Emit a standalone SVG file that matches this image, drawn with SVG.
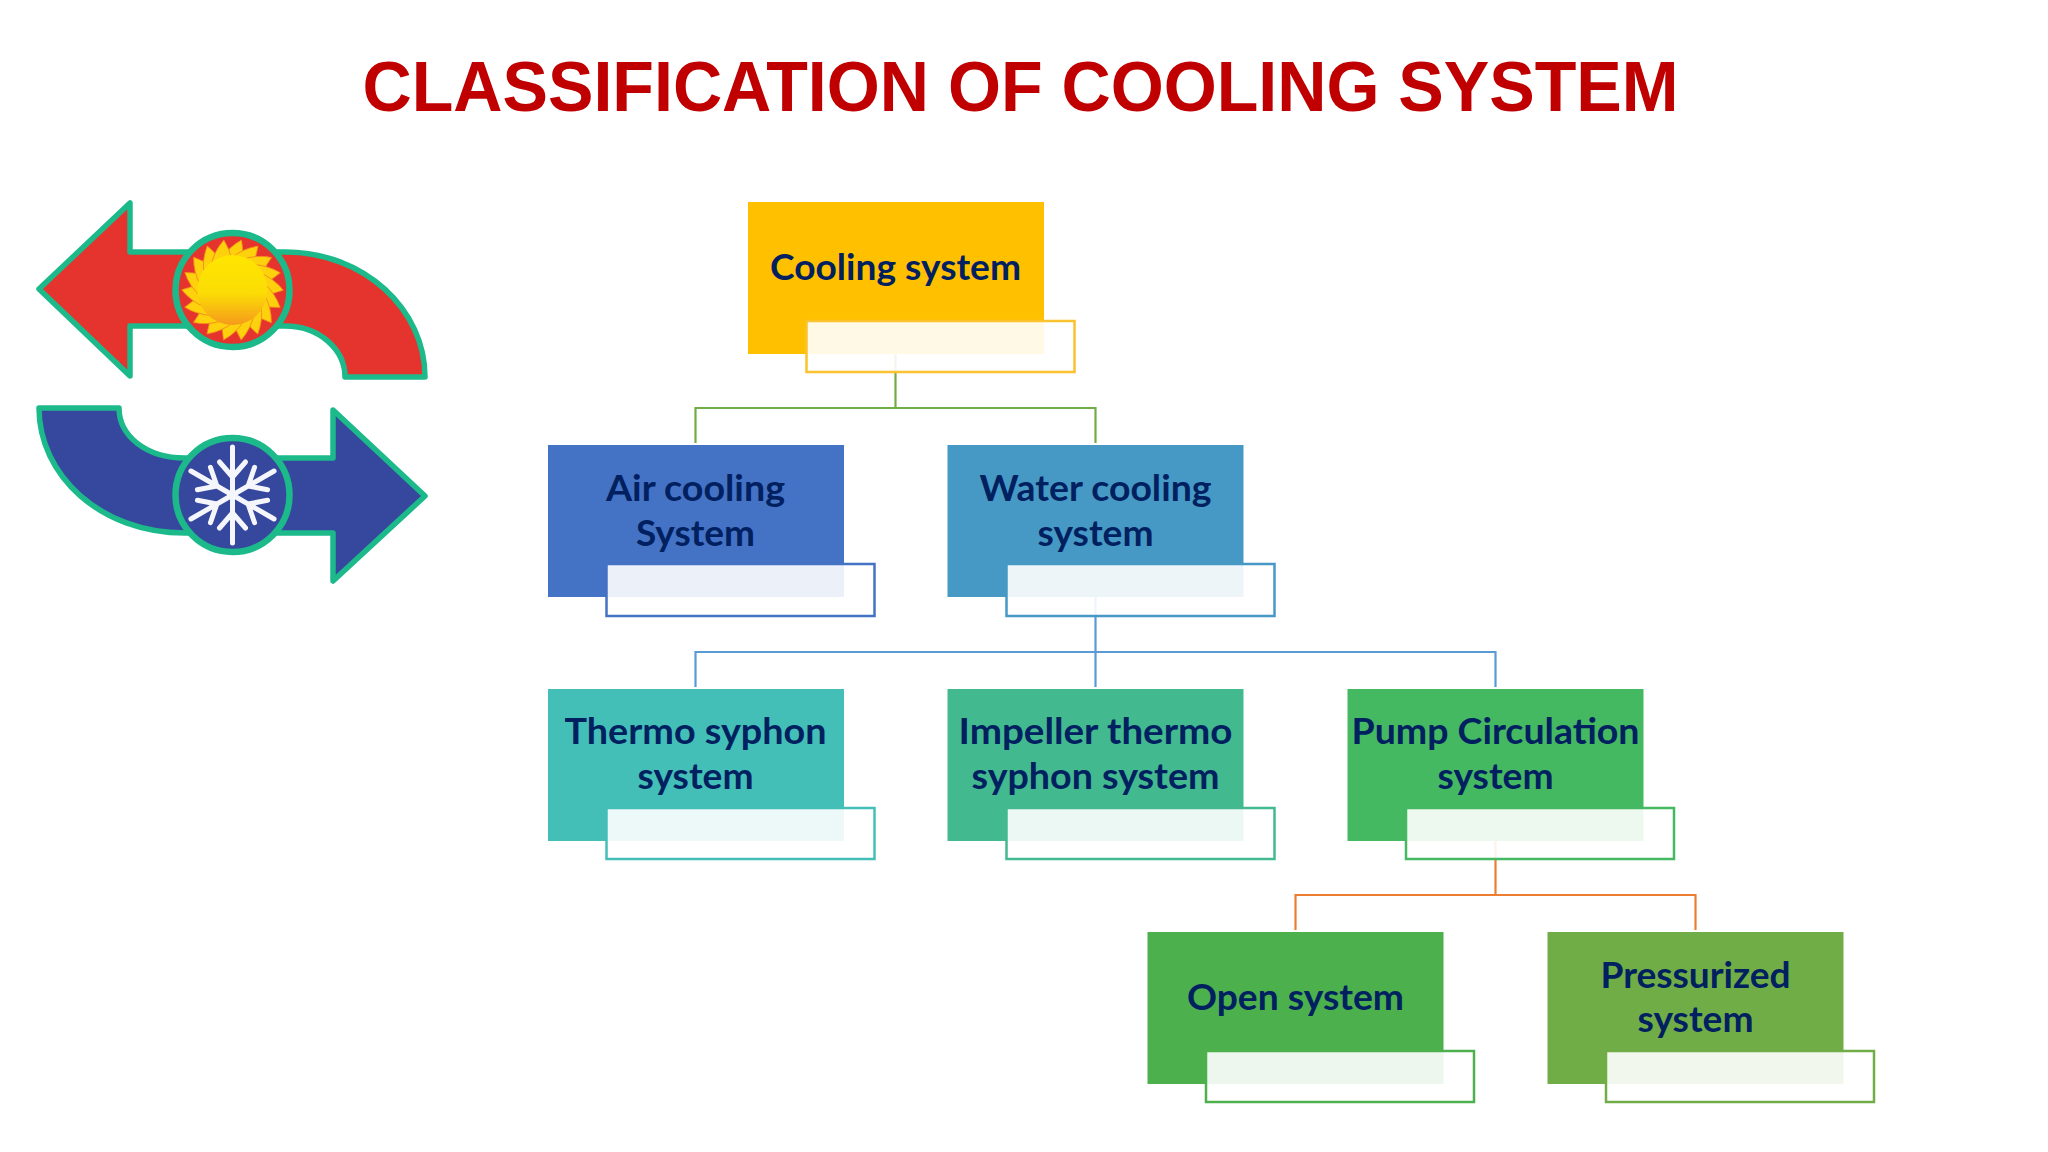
<svg xmlns="http://www.w3.org/2000/svg" width="2048" height="1152" viewBox="0 0 2048 1152">
<style>
.t{font-family:"Lato","Open Sans",sans-serif;font-weight:700;font-size:37px;fill:#002060;text-anchor:middle}
.ov{fill:#fff;fill-opacity:.9;stroke-width:2.5}
.c{fill:none;stroke-width:2.2}
.ic{stroke:#1cb98a;stroke-width:5.5;stroke-linejoin:round}
.ir{stroke:#1cb98a;stroke-width:6.5}
</style>
<defs>
<linearGradient id="sun" x1="0" y1="0" x2="0" y2="1"><stop offset="0" stop-color="#ffe600"/><stop offset=".55" stop-color="#fbdc05"/><stop offset="1" stop-color="#f59a1c"/></linearGradient>
<path id="ray" d="M-12 -30Q-4 -43 9 -50Q11 -40 10 -30Z" fill="#fdd20c" stroke="#f5861f" stroke-width=".8"/>
<g id="arm" fill="none" stroke="#f4f6fb" stroke-width="5" stroke-linecap="round"><path d="M0 0V-48M0 -18L-13 -33M0 -18L13 -33"/></g>
</defs>
<rect width="2048" height="1152" fill="#fff"/>
<text x="1020.500" y="111" font-family="Liberation Sans, Arial, sans-serif" font-weight="700" font-size="71" fill="#c00000" text-anchor="middle" textLength="1316" lengthAdjust="spacingAndGlyphs">CLASSIFICATION OF COOLING SYSTEM</text>
<g id="icon-hot">
<path class="ic" fill="#e5332e" d="M39 289L130 203V252H285C365 252 425 310 425 377H345C345 350 320 326 285 326H130V376Z"/>
<circle class="ir" cx="232.500" cy="290" r="57" fill="#e5332e"/>
<g transform="translate(232.500 290)">
<use href="#ray"/><use href="#ray" transform="rotate(20)"/><use href="#ray" transform="rotate(40)"/><use href="#ray" transform="rotate(60)"/><use href="#ray" transform="rotate(80)"/><use href="#ray" transform="rotate(100)"/><use href="#ray" transform="rotate(120)"/><use href="#ray" transform="rotate(140)"/><use href="#ray" transform="rotate(160)"/><use href="#ray" transform="rotate(180)"/><use href="#ray" transform="rotate(200)"/><use href="#ray" transform="rotate(220)"/><use href="#ray" transform="rotate(240)"/><use href="#ray" transform="rotate(260)"/><use href="#ray" transform="rotate(280)"/><use href="#ray" transform="rotate(300)"/><use href="#ray" transform="rotate(320)"/><use href="#ray" transform="rotate(340)"/>
<circle r="35" fill="url(#sun)"/>
</g>
</g>
<g id="icon-cold">
<path class="ic" fill="#36489d" d="M39 408H119C119 435 145 458 185 458H333V410L425 496L333 581V533H185C100 533 39 475 39 408Z"/>
<circle class="ir" cx="232.500" cy="495" r="57" fill="#36489d"/>
<g transform="translate(232.500 495)">
<use href="#arm"/><use href="#arm" transform="rotate(60)"/><use href="#arm" transform="rotate(120)"/><use href="#arm" transform="rotate(180)"/><use href="#arm" transform="rotate(240)"/><use href="#arm" transform="rotate(300)"/>
</g>
</g>
<g id="connectors">
<path class="c" stroke="#70ad47" d="M895.500 354V408M695.500 443V408H1095.500V443"/>
<path class="c" stroke="#5b9bd5" d="M1095.500 597V687M695.500 687V652H1495.500V687"/>
<path class="c" stroke="#ed7d31" d="M1495.500 841V895M1295.500 930V895H1695.500V930"/>
</g>
<g id="n-cooling"><rect x="748" y="202" width="296" height="152" fill="#ffc000"/><rect class="ov" x="806.500" y="321" width="268" height="51" stroke="#f9c22e"/><text class="t" x="895.500" y="280" textLength="251" lengthAdjust="spacingAndGlyphs">Cooling system</text></g>
<g id="n-air"><rect x="548" y="445" width="296" height="152" fill="#4472c4"/><rect class="ov" x="606.500" y="564" width="268" height="52" stroke="#4472c4"/><text class="t" x="695.500" y="501" textLength="179" lengthAdjust="spacingAndGlyphs">Air cooling</text><text class="t" x="695.500" y="546" textLength="119" lengthAdjust="spacingAndGlyphs">System</text></g>
<g id="n-water"><rect x="947.500" y="445" width="296" height="152" fill="#4699c4"/><rect class="ov" x="1006.500" y="564" width="268" height="52" stroke="#4699c4"/><text class="t" x="1095.500" y="501" textLength="232" lengthAdjust="spacingAndGlyphs">Water cooling</text><text class="t" x="1095.500" y="546" textLength="116" lengthAdjust="spacingAndGlyphs">system</text></g>
<g id="n-thermo"><rect x="548" y="689" width="296" height="152" fill="#43bfb7"/><rect class="ov" x="606.500" y="808" width="268" height="51" stroke="#43bfb7"/><text class="t" x="695.500" y="744" textLength="262" lengthAdjust="spacingAndGlyphs">Thermo syphon</text><text class="t" x="695.500" y="789" textLength="116" lengthAdjust="spacingAndGlyphs">system</text></g>
<g id="n-impeller"><rect x="947.500" y="689" width="296" height="152" fill="#43b98f"/><rect class="ov" x="1006.500" y="808" width="268" height="51" stroke="#43b98f"/><text class="t" x="1095.500" y="744" textLength="274" lengthAdjust="spacingAndGlyphs">Impeller thermo</text><text class="t" x="1095.500" y="789" textLength="248" lengthAdjust="spacingAndGlyphs">syphon system</text></g>
<g id="n-pump"><rect x="1347.500" y="689" width="296" height="152" fill="#45b862"/><rect class="ov" x="1406" y="808" width="268" height="51" stroke="#45b862"/><text class="t" x="1495.500" y="744" textLength="288" lengthAdjust="spacingAndGlyphs">Pump Circulation</text><text class="t" x="1495.500" y="789" textLength="116" lengthAdjust="spacingAndGlyphs">system</text></g>
<g id="n-open"><rect x="1147.500" y="932" width="296" height="152" fill="#4cb04d"/><rect class="ov" x="1206" y="1051" width="268" height="51" stroke="#4cb04d"/><text class="t" x="1295.500" y="1010" textLength="217" lengthAdjust="spacingAndGlyphs">Open system</text></g>
<g id="n-pressurized"><rect x="1547.500" y="932" width="296" height="152" fill="#70ad47"/><rect class="ov" x="1606" y="1051" width="268" height="51" stroke="#70ad47"/><text class="t" x="1695.500" y="988" textLength="190" lengthAdjust="spacingAndGlyphs">Pressurized</text><text class="t" x="1695.500" y="1032" textLength="116" lengthAdjust="spacingAndGlyphs">system</text></g>
</svg>
